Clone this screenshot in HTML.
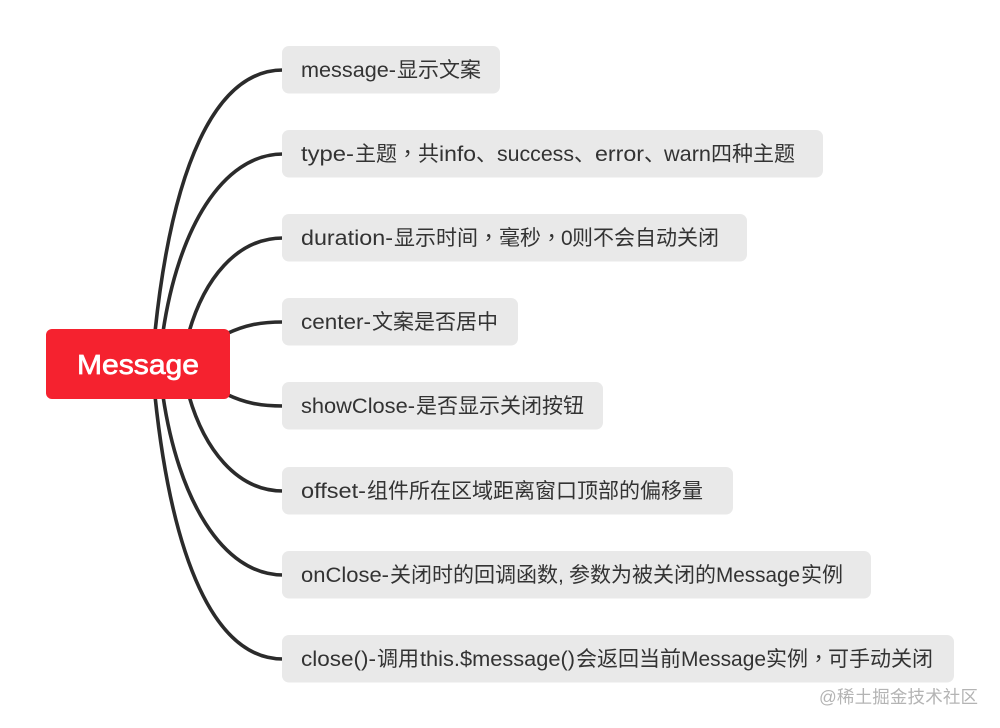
<!DOCTYPE html>
<html>
<head>
<meta charset="utf-8">
<style>
html,body{margin:0;padding:0;background:#fff;width:1000px;height:728px;overflow:hidden}
svg{display:block}
text{font-family:"Liberation Sans","Noto Sans CJK SC",sans-serif}
.t{font-size:21px;fill:#333}
.k{font-family:"Liberation Sans","Noto Sans CJK TC",sans-serif}
.c{fill:none;stroke:#2b2b2b;stroke-width:3.600;stroke-linecap:butt}
.b{fill:#e9e9e9}
</style>
</head>
<body>
<svg width="1000" height="728" viewBox="0 0 1000 728" xmlns="http://www.w3.org/2000/svg">
<path class="c" d="M155 332C172 170 214 70 283 70"/>
<path class="c" d="M163 332C178 230 222 154 283 154"/>
<path class="c" d="M189 332C204 280 236 238 283 238"/>
<path class="c" d="M226 334C245 325 260 322 283 322"/>
<path class="c" d="M226 394C245 403 260 406 283 406"/>
<path class="c" d="M189 396C204 448 236 491 283 491"/>
<path class="c" d="M163 396C178 498 222 575 283 575"/>
<path class="c" d="M155 396C172 558 214 659 283 659"/>

<rect class="b" x="282" y="46" width="218" height="47.500" rx="7"/>
<rect class="b" x="282" y="130" width="541" height="47.500" rx="7"/>
<rect class="b" x="282" y="214" width="465" height="47.500" rx="7"/>
<rect class="b" x="282" y="298" width="236" height="47.500" rx="7"/>
<rect class="b" x="282" y="382" width="321" height="47.500" rx="7"/>
<rect class="b" x="282" y="467" width="451" height="47.500" rx="7"/>
<rect class="b" x="282" y="551" width="589" height="47.500" rx="7"/>
<rect class="b" x="282" y="635" width="672" height="47.500" rx="7"/>

<rect x="46" y="329" width="184" height="70" rx="6" fill="#f5222f"/>
<text x="77" y="374" font-size="28" fill="#fff" stroke="#fff" stroke-width="0.700" textLength="122" lengthAdjust="spacingAndGlyphs">Message</text>

<text class="t" x="301" y="77" textLength="95" lengthAdjust="spacingAndGlyphs">message-</text>
<text class="t" x="397" y="77">显示文案</text>

<text class="t" x="301" y="161" textLength="53" lengthAdjust="spacingAndGlyphs">type-</text>
<text class="t" x="355" y="161">主题</text>
<text class="t k" x="397" y="161">，</text>
<text class="t" x="418" y="161">共</text>
<text class="t" x="439" y="161" textLength="37" lengthAdjust="spacingAndGlyphs">info</text>
<text class="t" x="476" y="161">、</text>
<text class="t" x="497" y="161" textLength="77" lengthAdjust="spacingAndGlyphs">success</text>
<text class="t" x="574" y="161">、</text>
<text class="t" x="595" y="161" textLength="49" lengthAdjust="spacingAndGlyphs">error</text>
<text class="t" x="644" y="161">、</text>
<text class="t" x="664" y="161" textLength="47" lengthAdjust="spacingAndGlyphs">warn</text>
<text class="t" x="711" y="161">四种主题</text>

<text class="t" x="301" y="245" textLength="92" lengthAdjust="spacingAndGlyphs">duration-</text>
<text class="t" x="394" y="245">显示时间</text>
<text class="t k" x="478" y="245">，</text>
<text class="t" x="499" y="245">毫秒</text>
<text class="t k" x="541" y="245">，</text>
<text class="t" x="561" y="245">0</text>
<text class="t" x="572" y="245">则不会自动关闭</text>

<text class="t" x="301" y="329" textLength="70" lengthAdjust="spacingAndGlyphs">center-</text>
<text class="t" x="372" y="329">文案是否居中</text>

<text class="t" x="301" y="413" textLength="114" lengthAdjust="spacingAndGlyphs">showClose-</text>
<text class="t" x="416" y="413">是否显示关闭按钮</text>

<text class="t" x="301" y="498" textLength="65" lengthAdjust="spacingAndGlyphs">offset-</text>
<text class="t" x="367" y="498">组件所在区域距离窗口顶部的偏移量</text>

<text class="t" x="301" y="582" textLength="88" lengthAdjust="spacingAndGlyphs">onClose-</text>
<text class="t" x="390" y="582">关闭时的回调函数</text>
<text class="t" x="558" y="582">,</text>
<text class="t" x="569" y="582">参数为被关闭的</text>
<text class="t" x="716" y="582" textLength="84" lengthAdjust="spacingAndGlyphs">Message</text>
<text class="t" x="801" y="582">实例</text>

<text class="t" x="301" y="666" textLength="75" lengthAdjust="spacingAndGlyphs">close()-</text>
<text class="t" x="377" y="666">调用</text>
<text class="t" x="420" y="666" textLength="155" lengthAdjust="spacingAndGlyphs">this.$message()</text>
<text class="t" x="576" y="666">会返回当前</text>
<text class="t" x="681" y="666" textLength="85" lengthAdjust="spacingAndGlyphs">Message</text>
<text class="t" x="766" y="666">实例</text>
<text class="t k" x="808" y="666">，</text>
<text class="t" x="828" y="666">可手动关闭</text>

<text x="819" y="703" font-size="17.500" fill="#b4b4b4" textLength="159">@稀土掘金技术社区</text>
</svg>
</body>
</html>
